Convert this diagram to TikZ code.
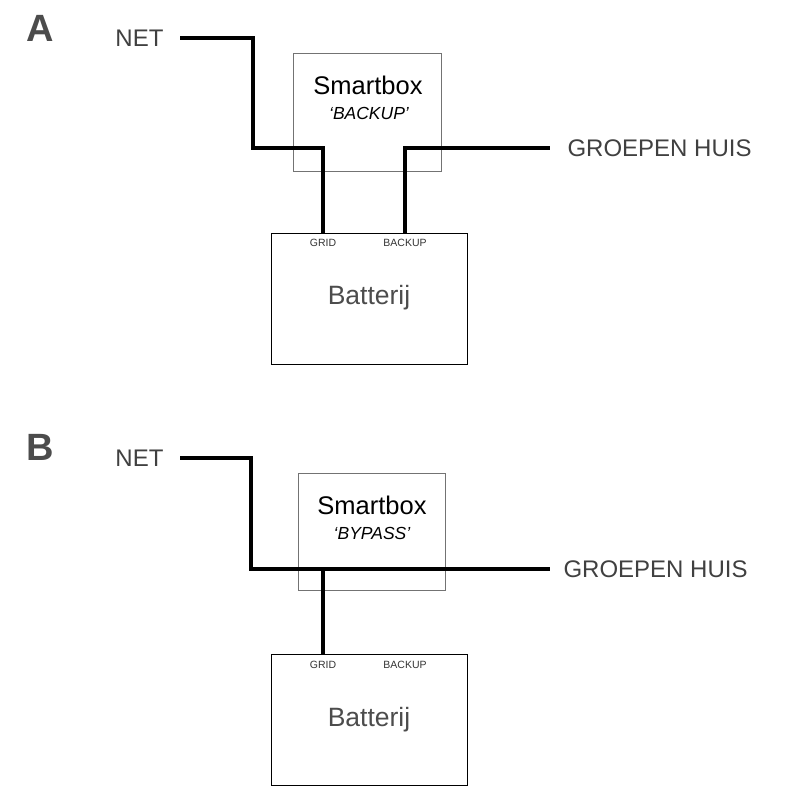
\documentclass[tikz,border=0pt]{standalone}
\usepackage{fontspec}
\setmainfont{Liberation Sans}
\begin{document}
\begin{tikzpicture}[x=1pt,y=-1pt,
  wire/.style={line width=3.2pt,line join=miter},
  box/.style={draw=black!55,line width=0.8pt},
  bat/.style={draw=black,line width=1pt},
  lbl/.style={text=black!75,font=\fontsize{24}{26}\selectfont},
  big/.style={text=black!70,font=\fontsize{38}{40}\selectfont\bfseries},
  sm/.style={text=black!80,font=\fontsize{10.5}{12}\selectfont},
  bt/.style={text=black!70,font=\fontsize{26.5}{28}\selectfont},
  sb/.style={font=\fontsize{25.5}{27}\selectfont},
  sbt/.style={font=\fontsize{17.5}{19}\selectfont\itshape}]
\useasboundingbox (0,0) rectangle (790,800);
% ---- A
\node[big] (la) at (40,28) {A};
\node[lbl,anchor=east] (neta) at (167,38) {NET};
\draw[box] (293,53) rectangle (441,171);
\node[sb] (sba) at (368,85) {Smartbox};
\node[sbt] (sbta) at (369,113) {‘BACKUP’};
\draw[bat] (271,233) rectangle (467,364);
\coordinate (ga) at (323,233); \coordinate (baa) at (405,233);
\node[sm] (grida) at (323,243) {GRID};
\node[sm] (bua) at (405,243) {BACKUP};
\node[bt] (bta) at (369,298) {Batterij};
\coordinate (na) at (180,38); \coordinate (ea) at (550,148);
\node[lbl,anchor=west] (gha) at (564,148) {GROEPEN HUIS};
\draw[wire] (na) -- (253,38) -- (253,148) -- (323,148) -- (ga);
\draw[wire] (baa) -- (405,148) -- (ea);
% ---- B
\node[big] (lb) at (40,447) {B};
\node[lbl,anchor=east] (netb) at (167,458) {NET};
\draw[box] (298,473) rectangle (445,590);
\node[sb] (sbb) at (372,505) {Smartbox};
\node[sbt] (sbtb) at (372,533) {‘BYPASS’};
\draw[bat] (271,654) rectangle (467,785);
\coordinate (gb) at (323,654);
\node[sm] (gridb) at (323,665) {GRID};
\node[sm] (bub) at (405,665) {BACKUP};
\node[bt] (btb) at (369,720) {Batterij};
\coordinate (nb) at (180,458); \coordinate (eb) at (550,569); \coordinate (jb) at (323,569);
\node[lbl,anchor=west] (ghb) at (560,569) {GROEPEN HUIS};
\draw[wire] (nb) -- (251,458) -- (251,569) -- (eb);
\draw[wire] (jb) -- (gb);
\end{tikzpicture}
\end{document}
